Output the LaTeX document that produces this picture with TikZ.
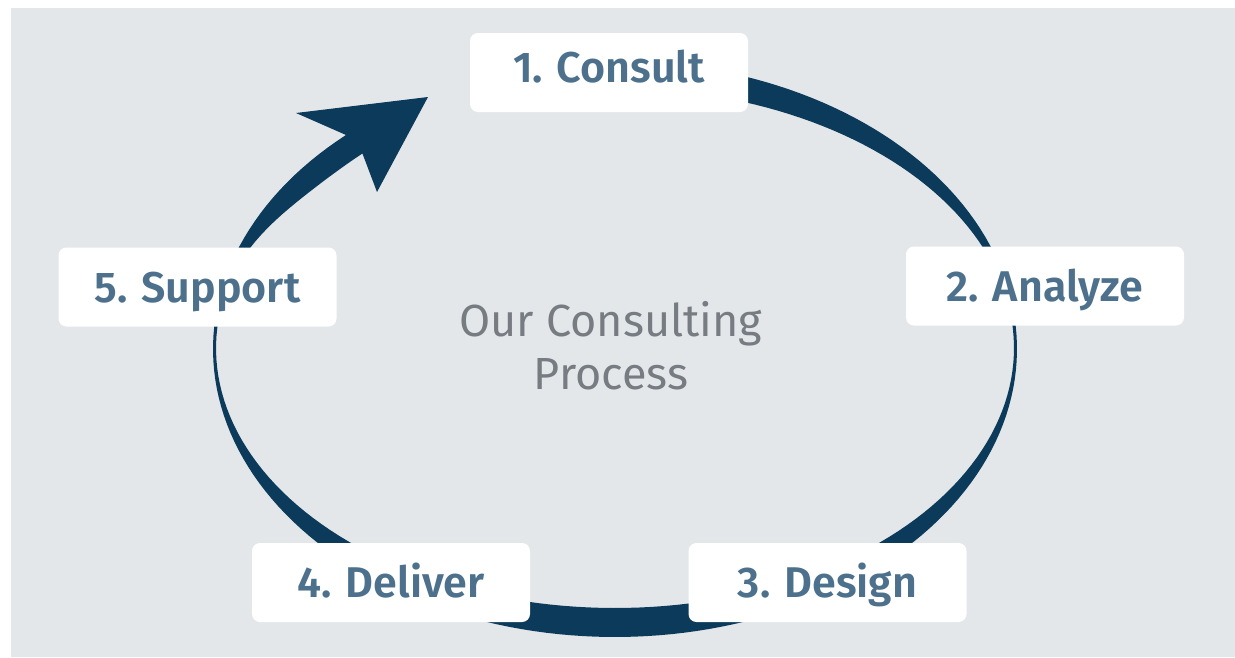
\documentclass[tikz,border=0pt]{standalone}
\usepackage{fontspec}
\setmainfont{Fira Sans}
\newfontfamily\lblfont{Fira Sans SemiBold}
\definecolor{bandcol}{HTML}{0B3A5B}
\definecolor{bgcol}{HTML}{E4E7EA}
\definecolor{labelcol}{HTML}{4D718C}
\definecolor{titlecol}{HTML}{777C82}
\begin{document}
\begin{tikzpicture}[x=1pt,y=-1pt,
  stage/.style={fill=white, rounded corners=8pt, minimum width=278pt, minimum height=79pt,
    inner sep=0pt, text=labelcol, font=\fontsize{43}{50}\selectfont\lblfont,
    text height=30pt, text depth=0pt},
  title/.style={text=titlecol, font=\fontsize{45}{52}\selectfont, anchor=base, inner sep=0pt}]
\useasboundingbox (0,0) rectangle (1235,657);
\fill[white] (0,0) rectangle (1235,657);
\fill[bgcol] (11,8) rectangle (1235,657);
% cycle band with arrowhead
\fill[bandcol] plot[domain=-95:228,samples=180,variable=\t] ({615+402*cos(\t)},{349+288*sin(\t)})
  -- (296,113) -- (428,97) -- (377,192)
  -- plot[domain=230:-95,samples=180,variable=\t]
     ({615+(399-9*exp(-((\t-220)/16)^2))*cos(\t)},{348+(260-9*exp(-((\t-220)/16)^2))*sin(\t)}) -- cycle;
% stages
\node[stage, text depth=10pt] (consult) at (609,72.5) {1. Consult};
\node[stage] (analyze) at (1045,286) {2. Analyze};
\node[stage] (design) at (827.5,582.5) {3. Design};
\node[stage] (deliver) at (391,582.5) {4. Deliver};
\node[stage] (support) at (197.5,287) {5. Support};
% title
\node[title] (t1) at (611,336) {Our Consulting};
\node[title] (t2) at (611,389) {Process};
\end{tikzpicture}
\end{document}
